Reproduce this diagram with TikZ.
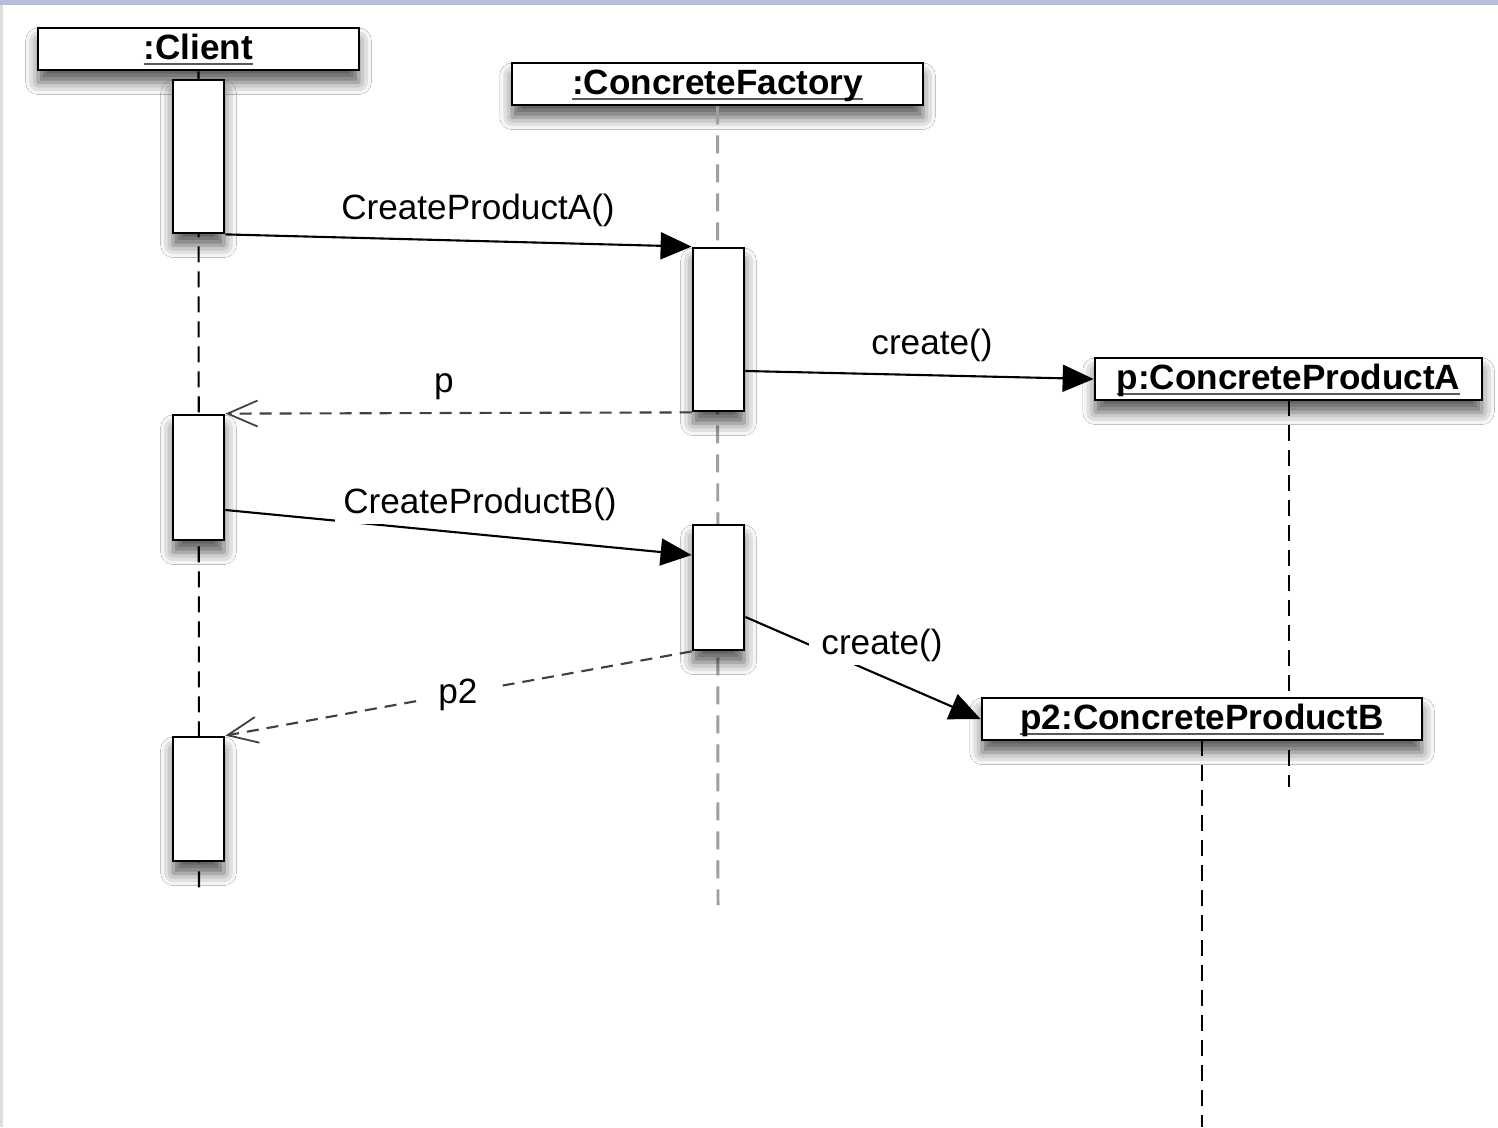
\documentclass[tikz,border=0pt]{standalone}
\usepackage{fontspec}
\setmainfont{Liberation Sans}
\usetikzlibrary{arrows.meta,shadows.blur}

\definecolor{topbar}{RGB}{185,189,216}
\definecolor{sidebar}{RGB}{222,222,222}

\newcommand{\ulabel}[1]{\setbox0\hbox{#1}\rlap{\color{black!65}\rule[-3pt]{\wd0}{1.1pt}}\box0}

\tikzset{
  umlshadow/.style={blur shadow={shadow xshift=0pt,shadow yshift=-7pt,shadow blur radius=7pt,shadow opacity=65}},
  obj/.style={draw,line width=1.6pt,fill=white,minimum height=0.84cm,inner sep=0pt,
    text height=18pt,text depth=5.5pt,
    font=\fontsize{20}{24}\selectfont\bfseries,umlshadow},
  act/.style={draw,line width=1.6pt,fill=white,minimum width=1.02cm,inner sep=0pt,umlshadow},
  life/.style={line width=1.2pt,dash pattern=on 0.32cm off 0.18cm},
  msg/.style={line width=1.2pt,-{Triangle[length=0.62cm,width=0.54cm]}},
  ret/.style={line width=1.2pt,black!75,dash pattern=on 0.24cm off 0.16cm,
    -{Straight Barb[length=0.6cm,width=0.52cm,line width=1pt]}},
  lbl/.style={font=\fontsize{20}{24}\selectfont,inner sep=2pt},
}

\begin{document}
\begin{tikzpicture}[x=0.02cm,y=-0.02cm]
  \useasboundingbox (0,0) rectangle (1498,1127);
  \fill[white] (0,0) rectangle (1498,1127);
  \fill[topbar] (0,0) rectangle (1498,5);
  \fill[sidebar] (0,5) rectangle (3,1127);
  % objects
  \node[obj,minimum width=6.42cm] (client) at (198.5,49) {\ulabel{:Client}};
  \node[obj,minimum width=8.22cm] (factory) at (717.5,84) {\ulabel{:ConcreteFactory}};
  % lifelines
  \coordinate (clientEnd) at (199,890);
  \coordinate (factoryEnd) at (718,905);
  \coordinate (prodAEnd) at (1289,787);
  \coordinate (prodBEnd) at (1202,1127);
  \draw[life] (client.south) -- (clientEnd);
  \draw[life,gray!75,line width=1.7pt,dash pattern=on 0.36cm off 0.22cm] (factory.south) -- (factoryEnd);
  \draw[life] (1289,400) -- (prodAEnd);
  \node[obj,minimum width=7.74cm] (prodA) at (1288.5,379) {\ulabel{p:ConcreteProductA}};
  \draw[life] (1202,740) -- (prodBEnd);
  \node[obj,minimum width=8.8cm] (prodB) at (1202,719) {\ulabel{p2:ConcreteProductB}};
  % activations
  \node[act,minimum height=3.06cm] (ca1) at (198.5,156.5) {};
  \node[act,minimum height=2.5cm] (ca2) at (198.5,477.5) {};
  \node[act,minimum height=2.48cm] (ca3) at (198.5,799) {};
  \node[act,minimum height=3.26cm] (fa1) at (718.5,329.5) {};
  \node[act,minimum height=2.5cm] (fa2) at (718.5,587.5) {};
  % messages
  \draw[msg] (ca1.south east) -- (fa1.north west);
  \node[lbl] (msgA) at (478,210) {CreateProductA()};
  \draw[msg] ([yshift=-0.83cm]fa1.east) -- (prodA.west);
  \node[lbl] (createA) at (932,345) {create()};
  \draw[ret] (fa1.south west) -- (ca2.north east);
  \node[lbl] (retA) at (444,387) {p};
  \draw[msg] ([yshift=-0.65cm]ca2.east) -- ([yshift=0.65cm]fa2.west);
  \node[lbl,fill=white,inner xsep=5pt] (msgB) at (480,504) {CreateProductB()};
  \draw[msg] ([yshift=-0.59cm]fa2.east) -- (prodB.west);
  \node[lbl,fill=white,inner xsep=7pt] (createB) at (882,645) {create()};
  \draw[ret] (fa2.south west) -- (ca3.north east);
  \node[lbl,fill=white,inner xsep=12pt] (retB) at (458,695) {p2};
\end{tikzpicture}
\end{document}
